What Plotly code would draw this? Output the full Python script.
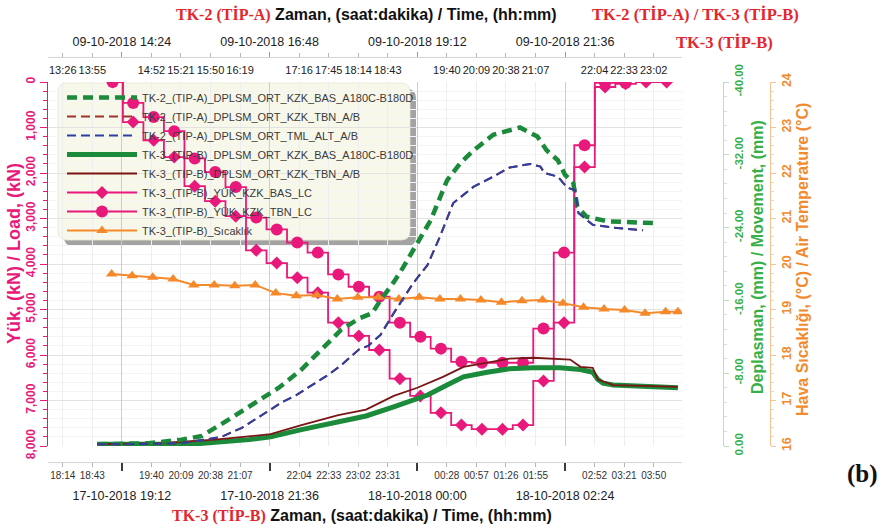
import plotly.graph_objects as go
from datetime import datetime, timedelta

# ---------------- TK-3 (TİP-B) : 17/18-10-2018 ----------------
TK3_TEMP_TIME = ["19:02", "19:22", "19:42", "20:02", "20:22", "20:42", "21:02", "21:22",
                 "21:42", "22:02", "22:22", "22:42", "23:02", "23:22", "23:42", "00:02",
                 "00:22", "00:42", "01:02", "01:22", "01:42", "02:02", "02:22", "02:42",
                 "03:02", "03:22", "03:42", "04:02", "04:14"]
TK3_TEMP_C = [19.78, 19.74, 19.71, 19.67, 19.54, 19.54, 19.52, 19.54,
              19.36, 19.30, 19.32, 19.23, 19.27, 19.27, 19.23, 19.27,
              19.23, 19.23, 19.21, 19.16, 19.19, 19.21, 19.14, 19.05,
              19.01, 18.99, 18.92, 18.95, 18.95]

TK3_LOAD_TIME = ["19:03", "19:23", "19:43", "20:03", "20:23", "20:43", "21:03", "21:23",
                 "21:43", "22:03", "22:23", "22:43", "23:03", "23:23", "23:43", "00:03",
                 "00:23", "00:43", "01:03", "01:23", "01:43", "02:03", "02:23", "02:43",
                 "03:03", "03:23", "03:43", "04:03"]
TK3_LOAD_BAS_KN = [0, 880, 1280, 1650, 2290, 2620, 2950, 3700,
                   3980, 4300, 4630, 5290, 5580, 5890, 6520, 6900,
                   7270, 7540, 7630, 7630, 7540, 6570, 5290, 1870,
                   110, 40, 0, 0]
TK3_LOAD_TBN_KN = [0, 460, 770, 1080, 1680, 1980, 2310, 2980,
                   3240, 3530, 3750, 4230, 4500, 4720, 5290, 5600,
                   5860, 6150, 6170, 6170, 6170, 5420, 3750, 1390,
                   20, 20]

TK3_DPL_BAS_TIME = ["18:48", "20:20", "21:16", "21:37", "22:07", "22:40", "23:10", "23:37",
                    "23:58", "00:10", "00:29", "00:45", "01:08", "01:30", "01:53", "02:19",
                    "02:39", "02:51", "02:56", "03:01", "03:11", "03:40", "04:14"]
TK3_DPL_BAS_MM = [-0.2, -0.2, -0.7, -1.0, -1.8, -2.6, -3.3, -4.3,
                  -5.1, -5.6, -6.7, -7.6, -8.1, -8.5, -8.6, -8.6,
                  -8.4, -8.1, -7.3, -6.9, -6.7, -6.5, -6.4]

TK3_DPL_TBN_TIME = ["18:48", "19:48", "20:43", "21:37", "22:07", "22:43", "23:10", "23:37",
                    "00:00", "00:25", "00:45", "01:08", "01:30", "01:53", "02:19", "02:29",
                    "02:39", "02:51", "02:56", "03:11", "03:40", "04:14"]
TK3_DPL_TBN_MM = [-0.2, -0.3, -0.7, -1.3, -2.3, -3.4, -4.0, -5.5,
                  -6.4, -7.6, -8.7, -9.2, -9.6, -9.7, -9.6, -9.5,
                  -8.7, -8.6, -7.3, -6.7, -6.6, -6.5]

# ---------------- TK-2 (TİP-A) : 09-10-2018 ----------------
TK2_DPL_BAS_TIME = ["14:00", "14:50", "15:22", "15:42", "16:08", "16:34", "16:57", "17:19",
                    "17:39", "17:58", "18:15", "18:28", "18:36", "18:49", "18:58", "19:08",
                    "19:25", "19:41", "19:54", "20:07", "20:26", "20:52", "21:09", "21:18",
                    "21:29", "21:36", "21:44", "21:48", "21:57", "22:17", "22:36", "23:02"]
TK2_DPL_BAS_MM = [-0.2, -0.3, -0.7, -1.1, -2.9, -4.8, -6.4, -8.4,
                  -10.6, -12.8, -14.0, -14.6, -16.0, -18.0, -19.6, -21.5,
                  -24.8, -29.2, -31.1, -32.5, -34.2, -35.0, -34.0, -32.5,
                  -31.4, -29.8, -28.9, -26.3, -25.2, -24.7, -24.6, -24.5]

TK2_DPL_ALT_TIME = ["14:00", "14:28", "15:22", "15:46", "16:01", "16:21", "16:44", "17:00",
                    "17:14", "17:33", "17:45", "17:58", "18:15", "18:24", "18:36", "18:49",
                    "19:08", "19:22", "19:34", "19:47", "20:07", "20:26", "20:42", "21:02",
                    "21:12", "21:16", "21:29", "21:38", "21:46", "21:49", "22:03", "22:23",
                    "22:52"]
TK2_DPL_ALT_MM = [-0.2, -0.2, -0.3, -0.7, -1.0, -2.0, -3.7, -4.8,
                  -5.6, -6.9, -7.8, -8.9, -10.6, -11.0, -12.2, -14.6,
                  -17.9, -19.9, -23.0, -26.7, -28.5, -29.6, -30.6, -31.0,
                  -30.7, -30.0, -29.6, -28.4, -28.1, -25.6, -24.3, -24.0,
                  -23.7]

# TBN channel runs along the TML_ALT channel
TK2_DPL_TBN_TIME = list(TK2_DPL_ALT_TIME)
TK2_DPL_TBN_MM = [-0.2, -0.2, -0.3, -0.7, -1.0, -2.0, -3.7, -4.8,
                  -5.6, -6.9, -7.8, -8.9, -10.6, -11.0, -12.2, -14.6,
                  -17.9, -19.9, -23.0, -26.7, -28.5, -29.6, -30.6, -31.0,
                  -30.7, -30.0, -29.6, -28.4, -28.1, -25.6, -24.3, -24.0,
                  -23.7]

# ---------------- axis ticks ----------------
TK3_RANGE = ["18:00", "04:18"]
TK2_RANGE = ["13:12", "23:30"]
TK3_MINOR_TICKS = ["18:14:24", "18:43:12", "19:40:48", "20:09:36", "20:38:24", "21:07:12",
                   "22:04:48", "22:33:36", "23:02:24", "23:31:12", "00:28:48", "00:57:36",
                   "01:26:24", "01:55:12", "02:52:48", "03:21:36", "03:50:24"]
TK3_MINOR_LABELS = ["18:14", "18:43", "19:40", "20:09", "20:38", "21:07", "22:04", "22:33",
                    "23:02", "23:31", "00:28", "00:57", "01:26", "01:55", "02:52", "03:21", "03:50"]
TK3_MAJOR_TICKS = ["19:12:00", "21:36:00", "00:00:00", "02:24:00"]
TK3_MAJOR_LABELS = ["17-10-2018 19:12", "17-10-2018 21:36", "18-10-2018 00:00", "18-10-2018 02:24"]

TK2_MINOR_TICKS = ["13:26:24", "13:55:12", "14:52:48", "15:21:36", "15:50:24", "16:19:12",
                   "17:16:48", "17:45:36", "18:14:24", "18:43:12", "19:40:48", "20:09:36",
                   "20:38:24", "21:07:12", "22:04:48", "22:33:36", "23:02:24"]
TK2_MINOR_LABELS = ["13:26", "13:55", "14:52", "15:21", "15:50", "16:19", "17:16", "17:45",
                    "18:14", "18:43", "19:40", "20:09", "20:38", "21:07", "22:04", "22:33", "23:02"]
TK2_MAJOR_TICKS = ["14:24:00", "16:48:00", "19:12:00", "21:36:00"]
TK2_MAJOR_LABELS = ["09-10-2018 14:24", "09-10-2018 16:48", "09-10-2018 19:12", "09-10-2018 21:36"]

LOAD_TICKS = [0, 1000, 2000, 3000, 4000, 5000, 6000, 7000, 8000]
LOAD_LABELS = ["0", "1,000", "2,000", "3,000", "4,000", "5,000", "6,000", "7,000", "8,000"]
MOVE_TICKS = [0, -8, -16, -24, -32, -40]
MOVE_LABELS = ["0.00", "-8.00", "-16.00", "-24.00", "-32.00", "-40.00"]
TEMP_TICKS = [16, 17, 18, 19, 20, 21, 22, 23, 24]

# ---------------- colours ----------------
PINK = "#e8197a"
GREEN = "#1b8a3a"
MAROON = "#7a1515"
BLUE = "#2c3fa3"
ORANGE = "#f5892a"
RED_TXT = "#e4262c"
AX_GREEN = "#38b04a"
AX_ORANGE = "#f28a2e"


def _parse(day, hhmm):
    fmt = "%Y-%m-%d %H:%M:%S" if hhmm.count(":") == 2 else "%Y-%m-%d %H:%M"
    return datetime.strptime(f"{day} {hhmm}", fmt)


def tk3(hhmm):
    # TK-3 test ran past midnight: morning hours belong to 18-10-2018
    d = _parse("2018-10-17", hhmm)
    if d.hour < 12:
        d += timedelta(days=1)
    return d


def tk2(hhmm):
    return _parse("2018-10-09", hhmm)


# page geometry (pixels) used to place free text
W, H = 886, 529
ML, MR, MT, MB = 48, 60, 57, 67
PW, PH = W - ML - MR, H - MT - MB


def px(x):
    return (x - ML) / PW


def py(y):
    return (H - MB - y) / PH


XD = px(682)
YDOM = [py(446), py(82)]

fig = go.Figure()

# TK-2 movements (upper time axis)
fig.add_trace(go.Scatter(
    x=[tk2(t) for t in TK2_DPL_BAS_TIME], y=TK2_DPL_BAS_MM, xaxis="x2", yaxis="y2",
    mode="lines", name="TK-2_(TIP-A)_DPLSM_ORT_KZK_BAS_A180C-B180D",
    line=dict(color=GREEN, width=4.5, dash="10px,6px")))
fig.add_trace(go.Scatter(
    x=[tk2(t) for t in TK2_DPL_TBN_TIME], y=TK2_DPL_TBN_MM, xaxis="x2", yaxis="y2",
    mode="lines", name="TK-2_(TIP-A)_DPLSM_ORT_KZK_TBN_A/B",
    line=dict(color="#a0322c", width=2, dash="9px,5px")))
fig.add_trace(go.Scatter(
    x=[tk2(t) for t in TK2_DPL_ALT_TIME], y=TK2_DPL_ALT_MM, xaxis="x2", yaxis="y2",
    mode="lines", name="TK-2_(TIP-A)_DPLSM_ORT_TML_ALT_A/B",
    line=dict(color=BLUE, width=2, dash="9px,5px")))

# TK-3 movements (lower time axis)
fig.add_trace(go.Scatter(
    x=[tk3(t) for t in TK3_DPL_BAS_TIME], y=TK3_DPL_BAS_MM, xaxis="x", yaxis="y2",
    mode="lines", name="TK-3_(TIP-B)_DPLSM_ORT_KZK_BAS_A180C-B180D",
    line=dict(color=GREEN, width=5)))
fig.add_trace(go.Scatter(
    x=[tk3(t) for t in TK3_DPL_TBN_TIME], y=TK3_DPL_TBN_MM, xaxis="x", yaxis="y2",
    mode="lines", name="TK-3_(TIP-B)_DPLSM_ORT_KZK_TBN_A/B",
    line=dict(color=MAROON, width=1.8)))

# TK-3 loads
fig.add_trace(go.Scatter(
    x=[tk3(t) for t in TK3_LOAD_TIME], y=TK3_LOAD_BAS_KN, xaxis="x", yaxis="y",
    mode="lines+markers", name="TK-3_(TIP-B)_YÜK_KZK_BAS_LC",
    line=dict(color=PINK, width=1.8, shape="hvh"),
    marker=dict(symbol="diamond", size=10, color=PINK)))
fig.add_trace(go.Scatter(
    x=[tk3(t) for t in TK3_LOAD_TIME[:len(TK3_LOAD_TBN_KN)]], y=TK3_LOAD_TBN_KN,
    xaxis="x", yaxis="y",
    mode="lines+markers", name="TK-3_(TIP-B)_YÜK_KZK_TBN_LC",
    line=dict(color=PINK, width=1.8, shape="hvh"),
    marker=dict(symbol="circle", size=12, color=PINK)))

# TK-3 air temperature
fig.add_trace(go.Scatter(
    x=[tk3(t) for t in TK3_TEMP_TIME], y=TK3_TEMP_C,
    xaxis="x", yaxis="y3",
    mode="lines+markers", name="TK-3_(TIP-B)_Sıcaklık",
    line=dict(color=ORANGE, width=2),
    marker=dict(symbol="triangle-up", size=10, color=ORANGE)))

# empty carriers so the date-label axes get drawn
fig.add_trace(go.Scatter(x=[], y=[], xaxis="x3", yaxis="y", showlegend=False, hoverinfo="skip"))
fig.add_trace(go.Scatter(x=[], y=[], xaxis="x4", yaxis="y", showlegend=False, hoverinfo="skip"))

tickfont_small = dict(family="Liberation Sans", size=10, color="#333333")
tickfont_top = dict(family="Liberation Sans", size=11, color="#222222")
datefont = dict(family="Liberation Sans", size=12.5, color="#222222")

fig.update_layout(
    width=W, height=H,
    margin=dict(l=ML, r=MR, t=MT, b=MB, pad=0),
    paper_bgcolor="white", plot_bgcolor="white",
    showlegend=True,
    legend=dict(x=px(62), y=py(83), xanchor="left", yanchor="top",
                bgcolor="rgba(0,0,0,0)", borderwidth=0, itemwidth=70,
                font=dict(family="Liberation Sans", size=11, color="#3a3a3a"),
                tracegroupgap=0),
    xaxis=dict(type="date", domain=[0, XD], anchor="free", position=0,
               range=[tk3(TK3_RANGE[0]), tk3(TK3_RANGE[1])],
               tickmode="array", tickvals=[tk3(t) for t in TK3_MINOR_TICKS],
               ticktext=TK3_MINOR_LABELS, tickfont=tickfont_small,
               ticks="outside", ticklen=4, tickcolor="#b5b5b5",
               showline=True, linecolor="#d6d6d6", linewidth=1,
               showgrid=True, gridcolor="#eeeeee", zeroline=False),
    xaxis3=dict(type="date", overlaying="x", anchor="free", position=0, side="bottom",
                range=[tk3(TK3_RANGE[0]), tk3(TK3_RANGE[1])],
                tickmode="array", tickvals=[tk3(t) for t in TK3_MAJOR_TICKS],
                ticktext=TK3_MAJOR_LABELS, tickfont=datefont,
                ticks="outside", ticklen=8, tickcolor="#3c3c3c", tickwidth=1.5,
                ticklabelstandoff=14,
                showline=False, showgrid=True, gridcolor="#cdcdcd", zeroline=False),
    xaxis2=dict(type="date", overlaying="x", anchor="free", position=1, side="top",
                range=[tk2(TK2_RANGE[0]), tk2(TK2_RANGE[1])],
                tickmode="array", tickvals=[tk2(t) for t in TK2_MINOR_TICKS],
                ticktext=TK2_MINOR_LABELS, tickfont=tickfont_top,
                ticks="outside", ticklen=4, tickcolor="#b5b5b5",
                ticklabelposition="inside", ticklabelstandoff=8,
                showline=True, linecolor="#d6d6d6", linewidth=1,
                showgrid=False, zeroline=False),
    xaxis4=dict(type="date", overlaying="x", anchor="free", position=1, side="top",
                range=[tk2(TK2_RANGE[0]), tk2(TK2_RANGE[1])],
                tickmode="array", tickvals=[tk2(t) for t in TK2_MAJOR_TICKS],
                ticktext=TK2_MAJOR_LABELS, tickfont=datefont,
                ticks="outside", ticklen=5, tickcolor="#9a9a9a", tickwidth=1,
                ticklabelstandoff=1,
                showline=False, showgrid=False, zeroline=False),
    yaxis=dict(domain=YDOM, range=[8000, 0], anchor="x",
               tickmode="array", tickvals=LOAD_TICKS, ticktext=LOAD_LABELS,
               tickangle=-90,
               tickfont=dict(family="Liberation Sans", size=12, color=PINK, weight="bold"),
               ticks="outside", ticklen=7, tickcolor=PINK,
               showline=True, linecolor=PINK, linewidth=1,
               showgrid=True, gridcolor="#e2e2e2", zeroline=False,
               minor=dict(dtick=200, tick0=0, ticks="outside", ticklen=4, tickcolor=PINK,
                          showgrid=True, gridcolor="#f4f4f4")),
    yaxis2=dict(overlaying="y", side="right", anchor="free", position=px(723),
                range=[0, -40],
                tickmode="array", tickvals=MOVE_TICKS, ticktext=MOVE_LABELS,
                tickangle=-90,
                tickfont=dict(family="Liberation Sans", size=11.5, color=AX_GREEN, weight="bold"),
                ticks="outside", ticklen=5, tickcolor="#b9dfbd",
                showline=True, linecolor="#b9dfbd", linewidth=1,
                showgrid=False, zeroline=False,
                minor=dict(dtick=1.6, tick0=0, ticks="outside", ticklen=3, tickcolor="#cfe9d2")),
    yaxis3=dict(overlaying="y", side="right", anchor="free", position=px(770),
                range=[16, 24],
                tickmode="array", tickvals=TEMP_TICKS,
                tickangle=-90,
                tickfont=dict(family="Liberation Sans", size=12.5, color=AX_ORANGE, weight="bold"),
                ticks="outside", ticklen=5, tickcolor="#f7c291",
                showline=True, linecolor="#f7c291", linewidth=1,
                showgrid=False, zeroline=False,
                minor=dict(dtick=0.2, tick0=16, ticks="outside", ticklen=3, tickcolor="#f9d3b0")),
)

# legend panel: shadow and cream background, under the grid and curves
def rounded_rect(x0, y0, x1, y1, r):
    rx, ry = r / PW, r / PH
    X0, X1 = px(x0), px(x1)
    Y0, Y1 = py(y0), py(y1)  # Y0 top, Y1 bottom
    return (f"M{X0 + rx},{Y0} L{X1 - rx},{Y0} Q{X1},{Y0} {X1},{Y0 - ry} "
            f"L{X1},{Y1 + ry} Q{X1},{Y1} {X1 - rx},{Y1} L{X0 + rx},{Y1} "
            f"Q{X0},{Y1} {X0},{Y1 + ry} L{X0},{Y0 - ry} Q{X0},{Y0} {X0 + rx},{Y0} Z")


fig.add_shape(type="path", path=rounded_rect(64, 89, 416, 246, 9), xref="paper", yref="paper",
              fillcolor="#a3a3a3", line=dict(width=0), layer="below")
fig.add_shape(type="path", path=rounded_rect(58, 83, 410, 240, 9), xref="paper", yref="paper",
              fillcolor="#f8f8ea", line=dict(color="#e6e6d0", width=0.8), layer="below")

SERIF_RED = f"font-family:Liberation Serif;color:{RED_TXT}"
annos = [
    dict(x=px(366), y=py(14),
         text=f"<span style='{SERIF_RED}'><b>TK-2 (TİP-A)</b></span> <b>Zaman, (saat:dakika) / Time, (hh:mm)</b>",
         font=dict(family="Liberation Sans", size=16, color="#111111")),
    dict(x=px(362), y=py(515),
         text=f"<span style='{SERIF_RED}'><b>TK-3 (TİP-B)</b></span> <b>Zaman, (saat:dakika) / Time, (hh:mm)</b>",
         font=dict(family="Liberation Sans", size=16, color="#111111")),
    dict(x=px(695), y=py(14), text="<b>TK-2 (TİP-A) / TK-3 (TİP-B)</b>",
         font=dict(family="Liberation Serif", size=16.5, color=RED_TXT)),
    dict(x=px(724), y=py(42), text="<b>TK-3 (TİP-B)</b>",
         font=dict(family="Liberation Serif", size=16.5, color=RED_TXT)),
    dict(x=px(862), y=py(474), text="<b>(b)</b>",
         font=dict(family="Liberation Serif", size=25, color="#111111")),
    dict(x=px(14), y=py(254), text="<b>Yük, (kN) / Load, (kN)</b>", textangle=-90,
         font=dict(family="Liberation Sans", size=18, color=PINK)),
    dict(x=px(757), y=py(257), text="<b>Deplasman, (mm) / Movement, (mm)</b>", textangle=-90,
         font=dict(family="Liberation Sans", size=16, color=AX_GREEN)),
    dict(x=px(802), y=py(260), text="<b>Hava Sıcaklığı, (°C) / Air Temperature (°C)</b>", textangle=-90,
         font=dict(family="Liberation Sans", size=16, color=AX_ORANGE)),
]
for a in annos:
    fig.add_annotation(xref="paper", yref="paper", showarrow=False,
                       xanchor="center", yanchor="middle", **a)

fig.write_html("out.html")
